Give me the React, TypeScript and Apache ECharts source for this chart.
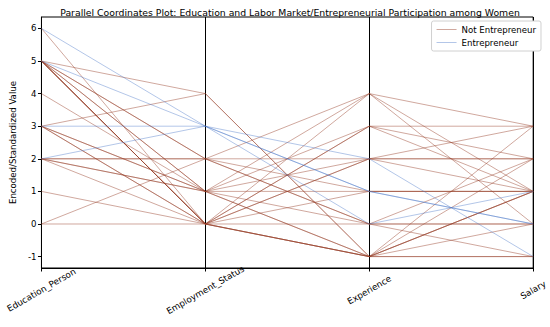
import React, { useEffect, useRef } from "react";
import * as echarts from "echarts";

const dimensions = ["Education_Person", "Employment_Status", "Experience", "Salary"];
const yTicks = [-1, 0, 1, 2, 3, 4, 5, 6];

// rows: [Education_Person, Employment_Status, Experience, Salary]
const entrepreneurRows: number[][] = [
  [6, 3, 2, -1],
  [5, 3, 1, 0],
  [3, 3, 1, 0],
  [2, 3, 0, 1],
];

const notEntrepreneurRows: number[][] = [
  [6, 0, 3, 1],
  [5, 4, -1, 1],
  [3, 4, -1, 2],
  [5, 2, 2, 2],
  [5, 1, 4, 3],
  [5, 0, 4, 1],
  [5, 0, 0, 0],
  [5, 1, 1, 1],
  [5, 0, -1, -1],
  [5, 0, -1, 3],
  [4, 1, 3, 2],
  [3, 0, -1, 1],
  [3, 1, 0, -1],
  [3, 0, 2, 1],
  [2, 2, 1, 1],
  [2, 1, -1, 0],
  [2, 0, 3, 3],
  [2, 1, 2, 3],
  [1, 0, 1, 1],
  [0, 2, 0, 0],
  [0, 0, -1, -1],
  [3, 1, -1, 1],
  [5, 2, 0, 2],
  [5, 0, 2, 2],
  [2, 2, 4, 0],
];

const NOT_COLOR = "rgba(150,62,40,0.45)";
const ENT_COLOR = "rgba(74,120,200,0.42)";
const FONT = "DejaVu Sans";

export default function App() {
  const ref = useRef<HTMLDivElement>(null);
  useEffect(() => {
    if (!ref.current) return;
    const chart = echarts.init(ref.current, undefined, { renderer: "svg" });
    const mk = (rows: number[][], name: string, color: string) =>
      rows.map((r) => ({
        type: "line",
        name,
        data: r,
        symbol: "none",
        showSymbol: false,
        lineStyle: { color, width: 1 },
        itemStyle: { color },
        emphasis: { disabled: true },
      }));
    chart.setOption({
      animation: false,
      textStyle: { fontFamily: FONT },
      title: {
        text: "Parallel Coordinates Plot: Education and Labor Market/Entrepreneurial Participation among Women",
        left: 285,
        textAlign: "center",
        top: 3,
        textStyle: { fontSize: 9.3, fontWeight: "normal", color: "#000", fontFamily: FONT },
      },
      legend: {
        orient: "vertical",
        right: 9,
        top: 21,
        data: ["Not Entrepreneur", "Entrepreneur"],
        icon: "rect",
        itemWidth: 20,
        itemHeight: 1,
        itemGap: 4,
        padding: [4, 5, 4, 5],
        borderColor: "#d0d0d0",
        borderWidth: 1,
        borderRadius: 2,
        backgroundColor: "#fff",
        textStyle: { fontSize: 8.6, color: "#000", fontFamily: FONT },
      },
      grid: {
        left: 33,
        right: 14,
        top: 17,
        bottom: 59,
        show: true,
        borderColor: "#000",
        borderWidth: 1,
        backgroundColor: "transparent",
      },
      xAxis: {
        type: "category",
        data: dimensions,
        boundaryGap: false,
        axisLine: { onZero: false, lineStyle: { color: "#000", width: 1 } },
        axisTick: { show: true, length: 3.5, alignWithLabel: true, lineStyle: { color: "#000" } },
        splitLine: { show: true, lineStyle: { color: "#000", width: 1 } },
        axisLabel: {
          rotate: 30,
          align: "center",
          verticalAlign: "middle",
          margin: 22,
          fontSize: 8.8,
          color: "#000",
          fontFamily: FONT,
          interval: 0,
        },
      },
      yAxis: {
        type: "value",
        min: -1.35,
        max: 6.35,
        name: "Encoded/Standardized Value",
        nameLocation: "middle",
        nameGap: 24,
        nameRotate: 90,
        nameTextStyle: { fontSize: 8.6, color: "#000", fontFamily: FONT },
        axisLine: { show: true, lineStyle: { color: "#000", width: 1 } },
        axisTick: { show: true, length: 3.5, customValues: yTicks, lineStyle: { color: "#000" } },
        axisLabel: { customValues: yTicks, fontSize: 8.6, color: "#000", margin: 5, fontFamily: FONT },
        splitLine: { show: false },
      },
      series: [
        ...mk(notEntrepreneurRows, "Not Entrepreneur", NOT_COLOR),
        ...mk(entrepreneurRows, "Entrepreneur", ENT_COLOR),
      ],
    });
    return () => chart.dispose();
  }, []);
  return <div ref={ref} style={{ width: 550, height: 327, position: "absolute", left: 0, top: 0 }} />;
}
